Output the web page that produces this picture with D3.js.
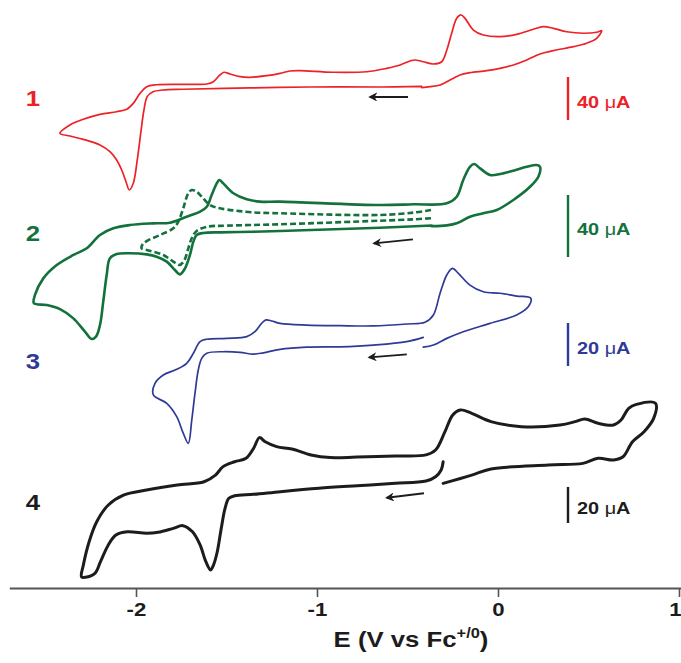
<!DOCTYPE html>
<html>
<head>
<meta charset="utf-8">
<script src="https://cdn.jsdelivr.net/npm/d3@7"></script>
<style>
  html, body { margin: 0; padding: 0; background: #fff; }
  svg { display: block; }
  text { font-family: "Liberation Sans", Arial, Helvetica, sans-serif; font-weight: bold; }
</style>
</head>
<body>
<svg id="chart" width="681" height="663"></svg>
<script>
// Cyclic voltammograms of compounds 1-4 (potential in V vs Fc+/0, current in µA)

const compoundLabels = ["1", "2", "3", "4"];
const scaleBarValues = [40, 40, 20, 20];          // µA
const tickValues = [-2, -1, 0, 1];
const tickLabels = ["-2", "-1", "0", "1"];

// Compound 1
const cv1E = [-0.422,-0.652,-1.039,-1.370,-1.740,-1.851,-1.906,-1.938,-1.956,-1.974,-1.993,-2.015,-2.037,-2.055,-2.079,-2.107,-2.144,-2.199,-2.291,-2.365,-2.420,
  -2.365,-2.291,-2.199,-2.107,-2.051,-2.015,-1.978,-1.941,-1.886,-1.739,-1.609,-1.573,-1.536,-1.514,-1.481,-1.425,-1.370,-1.278,-1.204,-1.149,-1.094,-0.912,-0.725,
  -0.615,-0.541,-0.486,-0.459,-0.413,-0.357,-0.311,-0.283,-0.256,-0.228,-0.204,-0.182,-0.136,-0.081,0.011,0.103,0.195,0.250,0.306,0.380,0.471,0.545,0.573,
  0.545,0.490,0.416,0.306,0.232,0.159,0.085,0.011,-0.062,-0.155,-0.210,-0.265,-0.320,-0.376,-0.422];
const cv1I = [0.5,0,0,-0.9,-2.1,-2.8,-4.4,-9.0,-21.4,-43.1,-67.9,-89.6,-95.8,-88.1,-77.2,-67.9,-60.2,-54.0,-48.7,-45.6,-43.1,
  -35.3,-30.0,-25.4,-23.0,-20.7,-15.2,-5.9,0.3,2.1,2.5,2.8,4.9,11.2,13.7,12.1,9.6,9.0,10.5,12.7,14.9,15.2,13.7,14.2,
  17.4,20.5,24.2,25.1,23.5,21.4,23.5,34.4,50.0,63.9,67.0,63.9,53.0,48.4,46.8,49.0,53.7,56.1,54.6,51.4,50.0,50.9,52.4,
  45.3,40.7,37.5,33.8,30.7,25.1,20.5,17.4,15.2,13.3,11.2,6.5,1.9,0.3,-0.5];

// Compound 2, full window
const cv2E = [-0.366,-0.652,-1.204,-1.352,-1.536,-1.628,-1.665,-1.683,-1.702,-1.729,-1.757,-1.785,-1.830,-1.886,-1.941,-2.033,-2.107,-2.144,-2.162,-2.181,
  -2.199,-2.221,-2.245,-2.282,-2.346,-2.420,-2.493,-2.564,-2.558,-2.512,-2.438,-2.346,-2.272,-2.199,-2.125,-2.033,-1.904,-1.812,-1.720,-1.646,-1.609,
  -1.582,-1.554,-1.540,-1.518,-1.462,-1.388,-1.315,-1.204,-0.652,-0.468,-0.283,-0.228,-0.192,-0.155,-0.131,-0.099,-0.044,0.011,0.085,0.159,0.214,0.232,
  0.223,0.177,0.085,-0.007,-0.081,-0.155,-0.228,-0.283,-0.366];
const cv2I = [1.6,0.2,-1.9,-2.4,-2.8,-3.2,-4.5,-8.8,-17.4,-26.0,-29.9,-27.1,-21.7,-18.5,-17.0,-16.3,-16.8,-19.5,-30.3,-47.5,
  -62.6,-70.1,-71.6,-66.9,-58.3,-52.3,-49.7,-48.6,-43.2,-32.5,-23.9,-17.4,-13.1,-4.5,-0.2,1.9,3.0,3.4,7.3,10.5,13.7,
  21.3,28.8,31.0,28.8,22.4,18.5,17.0,17.0,14.8,15.3,15.9,20.2,31.0,39.5,41.3,38.5,34.2,34.8,37.0,39.5,40.6,39.5,
  33.1,26.6,18.1,11.6,9.5,7.3,3.0,1.7,1.2];

// Compound 2, narrow window (dashed)
const cv2nE = [-0.370,-0.468,-0.652,-1.204,-1.499,-1.609,-1.665,-1.692,-1.711,-1.735,-1.761,-1.794,-1.849,-1.941,-1.969,-1.963,-1.941,-1.867,-1.794,-1.766,
  -1.739,-1.711,-1.692,-1.665,-1.637,-1.591,-1.536,-1.352,-1.204,-0.652,-0.468,-0.370];
const cv2nI = [6.3,5.6,4.7,2.4,1.5,0.8,-1.9,-6.6,-13.1,-21.3,-23.9,-21.7,-17.4,-14.2,-13.1,-10.5,-8.4,-4.5,-0.2,4.1,
  12.7,22.4,24.5,23.4,20.2,14.8,12.7,10.1,9.5,8.4,9.9,11.6];

// Compound 3
const cv3E = [-0.413,-0.504,-0.689,-0.873,-1.057,-1.204,-1.297,-1.352,-1.425,-1.518,-1.609,-1.637,-1.656,-1.674,-1.692,-1.711,-1.739,-1.775,-1.830,-1.904,
  -1.895,-1.849,-1.775,-1.720,-1.683,-1.646,-1.609,-1.499,-1.388,-1.343,-1.306,-1.282,-1.250,-1.204,-1.057,-0.873,-0.689,-0.504,-0.403,-0.357,-0.320,
  -0.283,-0.252,-0.219,-0.155,-0.081,0.011,0.103,0.181,0.167,0.103,-0.044,-0.192,-0.283,-0.357,-0.413];
const cv3I = [4.5,2.5,0.9,0.1,-0.1,-1.1,-2.7,-3.3,-2.5,-2.2,-2.9,-5.3,-10.7,-21.5,-34.0,-44.8,-40.1,-32.4,-26.2,-22.3,
  -16.9,-13.0,-10.4,-7.6,-2.9,2.5,3.6,4.0,4.8,7.1,11.0,12.6,12.1,11.0,10.2,9.9,9.8,10.7,11.5,14.9,25.0,
  33.5,36.6,34.3,28.8,25.7,25.0,23.7,22.7,18.7,14.9,11.0,7.1,4.0,0.9,-0.1];

// Compound 4
const cv4E = [-0.303,-0.314,-0.345,-0.398,-0.567,-0.779,-0.990,-1.202,-1.350,-1.455,-1.487,-1.508,-1.529,-1.551,-1.572,-1.588,-1.614,-1.646,-1.688,-1.741,
  -1.794,-1.878,-1.942,-2.048,-2.111,-2.153,-2.196,-2.227,-2.280,-2.301,-2.291,-2.259,-2.217,-2.153,-2.069,-1.942,-1.772,-1.624,-1.561,-1.519,-1.455,
  -1.392,-1.350,-1.318,-1.286,-1.223,-1.138,-1.033,-0.927,-0.779,-0.567,-0.398,-0.345,-0.293,-0.250,-0.208,-0.145,-0.039,0.130,0.342,0.427,0.479,
  0.553,0.638,0.680,0.722,0.765,0.870,0.860,0.807,0.743,0.691,0.638,0.553,0.469,0.278,-0.039,-0.145,-0.303];
const cv4I = [11.8,7.2,3.5,1.1,-0.2,-1.5,-2.9,-4.8,-6.3,-7.1,-8.5,-14.1,-25.2,-38.2,-45.6,-48.3,-43.7,-34.4,-27.1,-23.7,
  -25.2,-27.4,-27.9,-27.1,-28.9,-34.4,-43.7,-50.2,-52.4,-52.1,-45.6,-32.6,-21.5,-12.2,-6.7,-3.9,-1.1,0.7,4.4,9.1,11.8,
  13.7,19.3,25.2,22.9,20.2,18.9,15.6,14.1,14.4,15.0,15.6,18.3,28.5,37.8,40.6,38.7,34.1,31.3,32.2,34.1,35.6,
  33.2,32.2,35.0,41.5,43.7,44.3,35.9,28.5,22.9,14.6,12.8,13.7,10.9,10.0,7.8,4.4,-0.2];

// Scan-direction arrows: [E start, E end, I start, I end] in each trace's units
const arrow1 = [-0.497, -0.707, -9.3, -9.3];
const arrow2 = [-0.470, -0.685, -7.3, -9.9];
const arrow3 = [-0.504, -0.711, -3.4, -4.8];
const arrow4 = [-0.409, -0.614, -5.7, -8.2];

// ---- layout ----
const colors = ["#ec2227", "#13713c", "#2f3a97", "#1c1c1c"];
const widths = [1.7, 2.6, 1.7, 3.0];
const baseY = [87, 228, 347, 483];       // zero-current line of each trace
const barPx = [43, 62, 43, 36];          // length of each scale bar
const barMid = [98.5, 226, 344.5, 505];
const labelY = [106, 241, 369, 510];
const stretch = 1.17;                    // horizontal widening of the lettering

const svg = d3.select("#chart");

const x = d3.scaleLinear().domain([-2.7, 1.01]).range([9.3, 680.8]);
const yScales = baseY.map((b, i) =>
  d3.scaleLinear().domain([0, scaleBarValues[i]]).range([b, b - barPx[i]]));

const traces = [
  { E: cv1E, I: cv1I, k: 0, dash: null },
  { E: cv2nE, I: cv2nI, k: 1, dash: "6,3" },
  { E: cv2E, I: cv2I, k: 1, dash: null },
  { E: cv3E, I: cv3I, k: 2, dash: null },
  { E: cv4E, I: cv4I, k: 3, dash: null }
];

traces.forEach(t => {
  const y = yScales[t.k];
  const line = d3.line()
    .x(d => x(d[0]))
    .y(d => y(d[1]))
    .curve(d3.curveCatmullRom.alpha(0.5));
  svg.append("path")
    .datum(t.E.map((e, i) => [e, t.I[i]]))
    .attr("d", line)
    .attr("fill", "none")
    .attr("stroke", colors[t.k])
    .attr("stroke-width", widths[t.k])
    .attr("stroke-linejoin", "round")
    .attr("stroke-linecap", t.dash ? "butt" : "round")
    .attr("stroke-dasharray", t.dash);
});

// arrowhead marker (tip at the end of the line)
svg.append("defs").append("marker")
  .attr("id", "head")
  .attr("viewBox", "0 0 10 10")
  .attr("refX", 8).attr("refY", 5)
  .attr("markerWidth", 5).attr("markerHeight", 5)
  .attr("markerUnits", "strokeWidth")
  .attr("orient", "auto")
  .append("path")
  .attr("d", "M10,5 L0,0 L3,5 L0,10 Z")
  .attr("fill", "#1c1c1c");

[arrow1, arrow2, arrow3, arrow4].forEach((a, i) => {
  const y = yScales[i];
  svg.append("line")
    .attr("x1", x(a[0])).attr("y1", y(a[2]))
    .attr("x2", x(a[1])).attr("y2", y(a[3]))
    .attr("stroke", "#1c1c1c")
    .attr("stroke-width", 1.8)
    .attr("marker-end", "url(#head)");
});

function wideText(px, py, size) {
  return svg.append("text")
    .attr("transform", `translate(${px},${py}) scale(${stretch},1)`)
    .attr("font-size", size);
}

// compound numbers
compoundLabels.forEach((lab, i) => {
  wideText(33, labelY[i], 22)
    .attr("text-anchor", "middle")
    .attr("fill", colors[i])
    .text(lab);
});

// current scale bars
scaleBarValues.forEach((v, i) => {
  const len = Math.abs(yScales[i](v) - yScales[i](0));
  svg.append("line")
    .attr("x1", 568).attr("x2", 568)
    .attr("y1", barMid[i] - len / 2).attr("y2", barMid[i] + len / 2)
    .attr("stroke", colors[i]).attr("stroke-width", 2.4);
  const t = wideText(577, barMid[i] + 9, 17).attr("fill", colors[i]);
  t.append("tspan").text(v + " ");
  t.append("tspan").attr("font-weight", "normal").text("\u03bc");
  t.append("tspan").text("A");
});

// potential axis
const axisG = svg.append("g")
  .attr("transform", "translate(0,588)")
  .call(d3.axisBottom(x)
    .tickValues(tickValues)
    .tickFormat((d, i) => tickLabels[i])
    .tickSize(9)
    .tickSizeOuter(0)
    .tickPadding(6));
axisG.select(".domain").attr("stroke", "#555").attr("stroke-width", 2);
axisG.selectAll(".tick line").attr("stroke", "#555").attr("stroke-width", 1.6);
axisG.selectAll(".tick text")
  .attr("font-size", 19)
  .attr("font-family", "'Liberation Sans', Arial, sans-serif")
  .attr("font-weight", "bold")
  .attr("fill", "#1c1c1c")
  .attr("transform", (d, i) => `translate(${i === tickValues.length - 1 ? -4 : 0},0) scale(${stretch},1)`);

const title = wideText(411, 647, 22)
  .attr("text-anchor", "middle")
  .attr("fill", "#1c1c1c");
title.append("tspan").text("E (V vs Fc");
title.append("tspan").attr("font-size", 14).attr("dy", -9).text("+/0");
title.append("tspan").attr("dy", 9).text(")");
</script>
</body>
</html>
